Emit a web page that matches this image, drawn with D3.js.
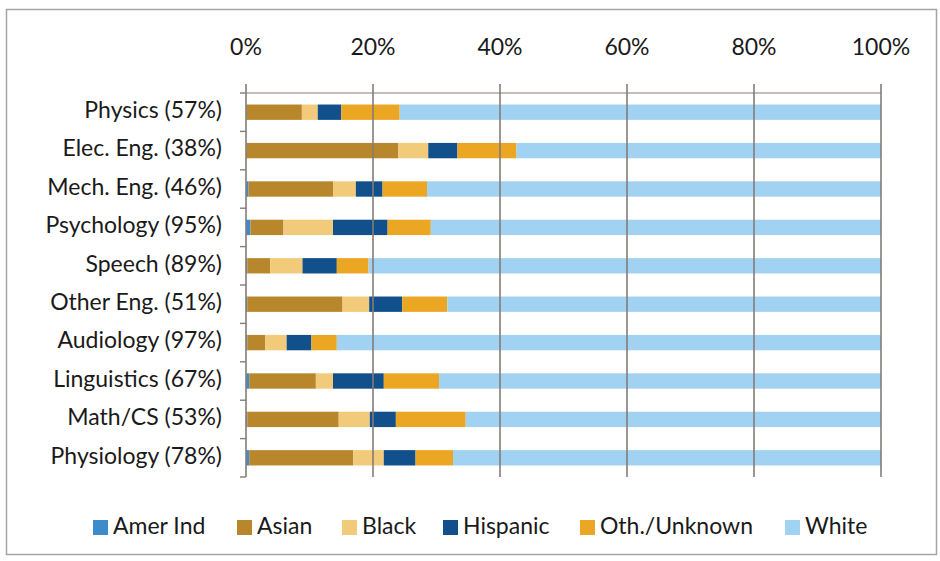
<!DOCTYPE html>
<html>
<head>
<meta charset="utf-8">
<script src="https://cdn.jsdelivr.net/npm/d3@7/dist/d3.min.js"></script>
<style>
  body { margin: 0; background: #fff; }
  svg text { font-family: Lato, "Open Sans", sans-serif; fill: #1a1a1a; }
</style>
</head>
<body>
<svg id="chart" width="940" height="561"></svg>
<script>
// Categories, top to bottom
const categories = ["Physics (57%)", "Elec. Eng. (38%)", "Mech. Eng. (46%)", "Psychology (95%)",
  "Speech (89%)", "Other Eng. (51%)", "Audiology (97%)", "Linguistics (67%)", "Math/CS (53%)", "Physiology (78%)"];
const seriesNames = ["Amer Ind", "Asian", "Black", "Hispanic", "Oth./Unknown", "White"];

// percent values per series, same order as categories
const amerInd  = [0.1, 0.1, 0.4, 0.7, 0.2, 0.2, 0.2, 0.5, 0.2, 0.5];
const asian    = [8.7, 23.9, 13.3, 5.2, 3.6, 15.0, 2.8, 10.5, 14.4, 16.4];
const black    = [2.5, 4.7, 3.6, 7.8, 5.1, 4.2, 3.4, 2.7, 4.9, 4.8];
const hispanic = [3.7, 4.6, 4.2, 8.6, 5.4, 5.2, 3.9, 8.0, 4.1, 5.0];
const othUnk   = [9.2, 9.3, 7.0, 6.8, 5.0, 7.1, 4.0, 8.7, 11.0, 5.9];
const white    = categories.map((c, i) => 100 - amerInd[i] - asian[i] - black[i] - hispanic[i] - othUnk[i]);

const tickValues = [0, 0.2, 0.4, 0.6, 0.8, 1];
const colors = ["#3d8bcb", "#b8872c", "#f2cb7a", "#11508a", "#eba623", "#a2d2f1"];

const svg = d3.select("#chart");
const margin = { top: 93, left: 246, right: 59, bottom: 84 };
const width = 940 - margin.left - margin.right;
const height = 561 - margin.top - margin.bottom;
const gridColor = "#857b78";
const fontSize = "23px";

// outer frame
svg.append("rect")
  .attr("x", 6.5).attr("y", 9.5).attr("width", 930).attr("height", 545)
  .attr("fill", "#fff").attr("stroke", "#a5a5a5").attr("stroke-width", 1.5);

const table = categories.map((c, i) => ({
  cat: c, "Amer Ind": amerInd[i], "Asian": asian[i], "Black": black[i],
  "Hispanic": hispanic[i], "Oth./Unknown": othUnk[i], "White": white[i]
}));
const stacked = d3.stack().keys(seriesNames)(table);

const x = d3.scaleLinear().domain([0, 100]).range([0, width]);
const y = d3.scaleBand().domain(categories).range([0, height]).paddingInner(0.6).paddingOuter(0.3);
const yBound = d3.scaleBand().domain(categories).range([0, height]);

const g = svg.append("g").attr("transform", `translate(${margin.left},${margin.top})`);

// bars
g.selectAll("g.series")
  .data(stacked)
  .enter().append("g")
  .attr("fill", (d, i) => colors[i])
  .selectAll("rect")
  .data(d => d)
  .enter().append("rect")
  .attr("x", d => x(d[0]))
  .attr("width", d => x(d[1]) - x(d[0]))
  .attr("y", d => y(d.data.cat))
  .attr("height", y.bandwidth());

// vertical gridlines (drawn over bars like the original)
g.selectAll("line.grid")
  .data(tickValues)
  .enter().append("line")
  .attr("x1", d => x(d * 100)).attr("x2", d => x(d * 100))
  .attr("y1", -9).attr("y2", height)
  .attr("stroke", gridColor).attr("stroke-width", 1.6);

// top axis line
g.append("line")
  .attr("x1", 0).attr("x2", width).attr("y1", 0).attr("y2", 0)
  .attr("stroke", gridColor).attr("stroke-width", 1.2);

// top tick labels
g.selectAll("text.xt")
  .data(tickValues)
  .enter().append("text")
  .attr("x", d => x(d * 100))
  .attr("y", -44)
  .attr("text-anchor", "middle")
  .attr("dominant-baseline", "middle")
  .style("font-size", fontSize)
  .text(d3.format(".0%"));

// left axis ticks at category boundaries
const bounds = categories.map(c => yBound(c) + yBound.bandwidth()).concat([0]);
g.selectAll("line.yt")
  .data(bounds)
  .enter().append("line")
  .attr("x1", -6).attr("x2", 0)
  .attr("y1", d => d).attr("y2", d => d)
  .attr("stroke", gridColor).attr("stroke-width", 1.4);

// category labels
g.selectAll("text.cat")
  .data(categories)
  .enter().append("text")
  .attr("x", -24)
  .attr("y", d => yBound(d) + yBound.bandwidth() / 2)
  .attr("text-anchor", "end")
  .attr("dominant-baseline", "middle")
  .style("font-size", fontSize)
  .text(d => d);

// legend
const legendX = [93, 237, 342, 443, 580, 785];
const legend = svg.append("g").attr("transform", "translate(0,527)");
const items = legend.selectAll("g")
  .data(seriesNames)
  .enter().append("g")
  .attr("transform", (d, i) => `translate(${legendX[i]},0)`);
items.append("rect")
  .attr("x", 0).attr("y", -7).attr("width", 15).attr("height", 15)
  .attr("fill", (d, i) => colors[i]);
items.append("text")
  .attr("x", 20).attr("y", 1)
  .attr("dominant-baseline", "middle")
  .style("font-size", fontSize)
  .text(d => d);
</script>
</body>
</html>
